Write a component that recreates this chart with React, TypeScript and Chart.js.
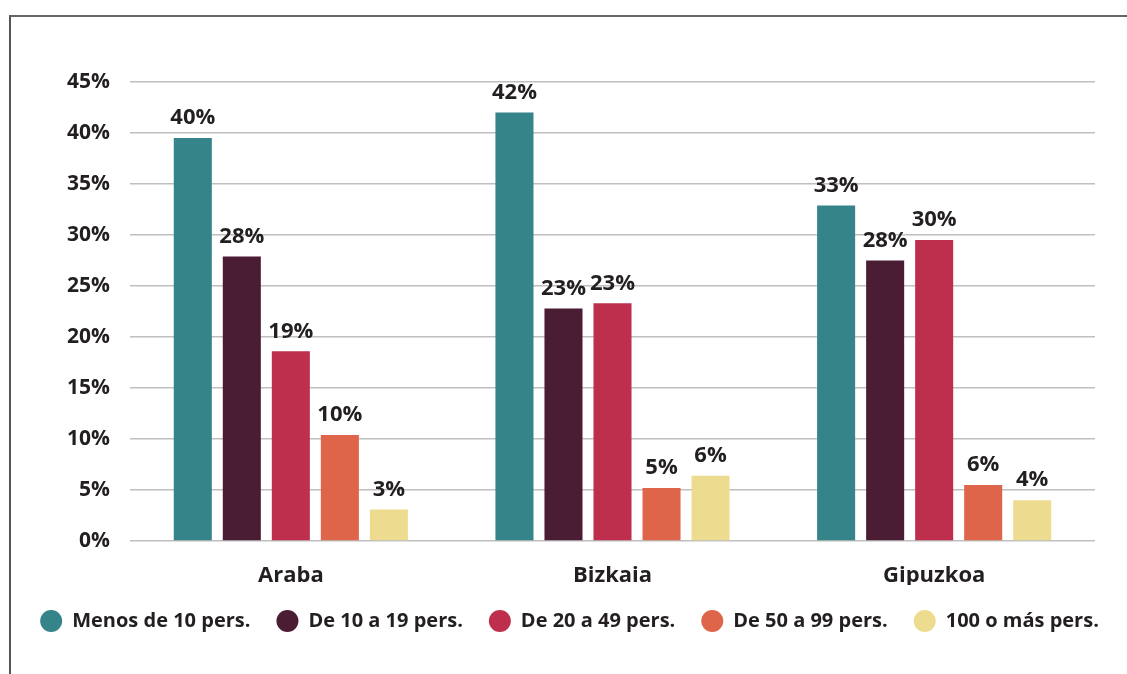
import React, { useEffect, useRef } from "react";
import { Chart, registerables } from "chart.js";

Chart.register(...registerables);

const categories = ["Araba", "Bizkaia", "Gipuzkoa"];
const seriesNames = [
  "Menos de 10 pers.",
  "De 10 a 19 pers.",
  "De 20 a 49 pers.",
  "De 50 a 99 pers.",
  "100 o más pers.",
];
const menos10 = [39.5, 42.0, 32.9];
const de10a19 = [27.9, 22.8, 27.5];
const de20a49 = [18.6, 23.3, 29.5];
const de50a99 = [10.4, 5.2, 5.5];
const mas100 = [3.1, 6.4, 4.0];
const seriesColors = ["#34848A", "#4A1D35", "#BD2F4C", "#DE654A", "#EDDC8F"];
const yMax = 45;
const yStep = 5;

const FONT = "'Open Sans', Lato, sans-serif";
const TEXT = "#231f20";

const valueLabels = {
  id: "valueLabels",
  afterDatasetsDraw(chart: any) {
    const ctx = chart.ctx;
    ctx.save();
    ctx.font = `bold 22px ${FONT}`;
    ctx.fillStyle = TEXT;
    ctx.textAlign = "center";
    ctx.textBaseline = "bottom";
    chart.data.datasets.forEach((ds: any, i: number) => {
      const meta = chart.getDatasetMeta(i);
      meta.data.forEach((el: any, j: number) => {
        const v = ds.data[j];
        ctx.fillText(Math.round(v) + "%", el.x, el.y - 9);
      });
    });
    ctx.restore();
  },
};

export default function App() {
  const ref = useRef<HTMLCanvasElement>(null);
  useEffect(() => {
    if (!ref.current) return;
    const allSeries = [menos10, de10a19, de20a49, de50a99, mas100];
    const chart = new Chart(ref.current, {
      type: "bar",
      data: {
        labels: categories,
        datasets: allSeries.map((d, i) => ({
          label: seriesNames[i],
          data: d,
          backgroundColor: seriesColors[i],
          borderWidth: 0,
          categoryPercentage: 0.762,
          barPercentage: 0.776,
        })),
      },
      options: {
        animation: false,
        responsive: false,
        maintainAspectRatio: false,
        layout: { padding: { left: 12, right: 0, top: 82, bottom: 33 } },
        plugins: {
          tooltip: { enabled: false },
          legend: {
            position: "bottom",
            labels: {
              usePointStyle: true,
              pointStyle: "circle",
              boxHeight: 15.5,
              pointStyleWidth: 22,
              padding: 26,
              color: TEXT,
              font: { family: FONT, size: 20, weight: "bold" },
            },
          },
        },
        scales: {
          x: {
            grid: { display: false },
            border: { display: false },
            ticks: {
              color: TEXT,
              padding: 14,
              font: { family: FONT, size: 22, weight: "bold" },
            },
            afterFit(scale: any) {
              scale.height = 44;
            },
          },
          y: {
            min: 0,
            max: yMax,
            border: { display: false },
            grid: { color: "#bfbfbf", lineWidth: 1.6, drawTicks: false },
            ticks: {
              stepSize: yStep,
              padding: 20,
              color: TEXT,
              font: { family: FONT, size: 21, weight: "bold" },
              callback: (v: any) => v + "%",
            },
            afterFit(scale: any) {
              scale.width = 118;
            },
          },
          yRight: {
            position: "right",
            min: 0,
            max: yMax,
            grid: { display: false, drawTicks: false },
            border: { display: false },
            ticks: { display: false },
            afterFit(scale: any) {
              scale.width = 32;
            },
          },
        },
      },
      plugins: [valueLabels],
    });
    return () => chart.destroy();
  }, []);

  return (
    <div style={{ position: "fixed", left: 0, top: 0, width: 1127, height: 674, background: "#fff" }}>
      <div
        style={{
          position: "absolute",
          left: 9,
          top: 15,
          width: 1118,
          height: 659,
          borderTop: "2px solid #666",
          borderLeft: "2px solid #555",
          boxSizing: "border-box",
        }}
      />
      <canvas ref={ref} width={1127} height={674} style={{ position: "absolute", left: 0, top: 0 }} />
    </div>
  );
}
